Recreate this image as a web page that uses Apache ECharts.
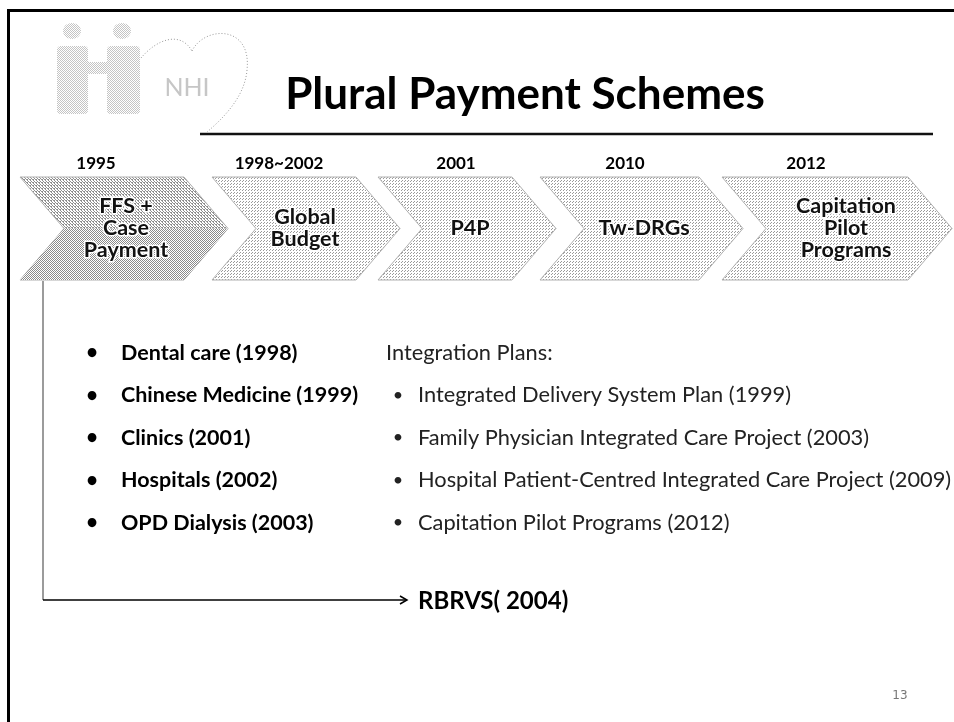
<!DOCTYPE html>
<html>
<head>
<meta charset="utf-8" />
<title>Plural Payment Schemes</title>
<style type="text/css">
html,body{margin:0;padding:0;background:#fff}
#main{width:954px;height:722px}
</style>
<script src="https://cdn.jsdelivr.net/npm/echarts@6/dist/echarts.min.js"></script>
</head>
<body>
<div id="main"></div>
<script type="text/javascript">
// slide text
var title = 'Plural Payment Schemes';
var years = ['1995', '1998~2002', '2001', '2010', '2012'];
var stages = ['FFS +\nCase\nPayment', 'Global\nBudget', 'P4P', 'Tw-DRGs', 'Capitation\nPilot\nPrograms'];
var globalBudgetItems = ['Dental care (1998)', 'Chinese Medicine (1999)', 'Clinics (2001)', 'Hospitals (2002)', 'OPD Dialysis (2003)'];
var integrationHeader = 'Integration Plans:';
var integrationItems = ['Integrated Delivery System Plan (1999)', 'Family Physician Integrated Care Project (2003)',
	'Hospital Patient-Centred Integrated Care Project (2009)', 'Capitation Pilot Programs (2012)'];
var arrowLabel = 'RBRVS( 2004)';
var pageNo = '13';

// layout (pixels)
var chevX = [[20, 228], [212, 400], [378, 556], [540, 743], [722, 952]];
var yearX = [96, 279, 456, 625, 806];
var stageX = [126, 305, 470, 644, 846];
var chevTop = 177, chevBot = 280, notch = 44;
var FONT = 'Lato, "Open Sans", sans-serif';

//dotted fill like the slide's texture
function dotPattern(size, dots, color){
	var c = document.createElement('canvas');
	c.width = size; c.height = size;
	var ctx = c.getContext('2d');
	ctx.fillStyle = '#fff';
	ctx.fillRect(0, 0, size, size);
	ctx.fillStyle = color;
	dots.forEach(function(d){ ctx.fillRect(d[0], d[1], 1, 1); });
	return {image: c, repeat: 'repeat'};
}
var densePat = dotPattern(2, [[0, 0], [1, 1]], '#8a8a8a');
var midPat = dotPattern(3, [[0, 0], [1, 1], [2, 2], [0, 2]], '#8f8f8f');
var lightPat = dotPattern(3, [[0, 0], [2, 1]], '#9a9a9a');
var logoPat = dotPattern(2, [[0, 0], [1, 1]], '#c4c4c4');

var g = [];

// slide border (top + left)
g.push({type: 'line', shape: {x1: 7, y1: 10.5, x2: 954, y2: 10.5}, style: {stroke: '#000', lineWidth: 3}});
g.push({type: 'line', shape: {x1: 8.5, y1: 9, x2: 8.5, y2: 722}, style: {stroke: '#000', lineWidth: 3}});

// NHI logo (faint)
g.push({type: 'ellipse', shape: {cx: 72, cy: 31, rx: 9, ry: 8}, style: {fill: logoPat}});
g.push({type: 'ellipse', shape: {cx: 122, cy: 31, rx: 9, ry: 8}, style: {fill: logoPat}});
g.push({type: 'rect', shape: {x: 57, y: 46, width: 31, height: 68, r: 4}, style: {fill: logoPat}});
g.push({type: 'rect', shape: {x: 107, y: 46, width: 33, height: 68, r: 4}, style: {fill: logoPat}});
g.push({type: 'rect', shape: {x: 88, y: 62, width: 19, height: 12}, style: {fill: logoPat}});
g.push({type: 'bezierCurve', shape: {x1: 141, y1: 58, cpx1: 156, cpy1: 40, cpx2: 180, cpy2: 30, x2: 192, y2: 51},
	style: {stroke: '#999', lineWidth: 1, lineDash: [1, 2], fill: null}});
g.push({type: 'bezierCurve', shape: {x1: 192, y1: 51, cpx1: 204, cpy1: 26, cpx2: 252, cpy2: 24, x2: 247, y2: 70},
	style: {stroke: '#999', lineWidth: 1, lineDash: [1, 2], fill: null}});
g.push({type: 'bezierCurve', shape: {x1: 247, y1: 70, cpx1: 245, cpy1: 95, cpx2: 226, cpy2: 116, x2: 207, y2: 132},
	style: {stroke: '#999', lineWidth: 1, lineDash: [1, 2], fill: null}});
g.push({type: 'text', style: {text: 'NHI', x: 187, y: 88, align: 'center', verticalAlign: 'middle',
	font: '25px ' + FONT, fill: '#c6c6c6'}});

// title + rule
g.push({type: 'text', style: {text: title, x: 525, y: 95, align: 'center', verticalAlign: 'middle',
	font: 'bold 44px ' + FONT, fill: '#000'}});
g.push({type: 'line', shape: {x1: 200, y1: 134, x2: 933, y2: 134}, style: {stroke: '#111', lineWidth: 2.5}});

// chevrons
chevX.forEach(function(cx, i){
	var x0 = cx[0], x1 = cx[1], mid = (chevTop + chevBot) / 2;
	var pts = [[x0, chevTop], [x1 - notch, chevTop], [x1, mid], [x1 - notch, chevBot], [x0, chevBot], [x0 + notch, mid]];
	g.push({type: 'polygon', shape: {points: pts},
		style: {fill: i === 0 ? midPat : lightPat, stroke: '#b0b0b0', lineWidth: 1}});
	if (i === 0) {
		// darker lower part of the first chevron
		g.push({type: 'polygon', shape: {points: [[x0 + notch, mid], [x1, mid], [x1 - notch, chevBot], [x0, chevBot]]},
			style: {fill: densePat}});
	}
	g.push({type: 'text', style: {text: years[i], x: yearX[i], y: 164, align: 'center', verticalAlign: 'middle',
		font: 'bold 17px ' + FONT, fill: '#000'}});
	g.push({type: 'text', style: {text: stages[i], x: stageX[i], y: mid, align: 'center', verticalAlign: 'middle',
		font: 'bold 21.5px ' + FONT, lineHeight: 22, fill: '#111', stroke: '#fff', lineWidth: 3}});
});

// left bullet list
globalBudgetItems.forEach(function(t, i){
	var y = 353 + i * 42.5;
	g.push({type: 'text', style: {text: '\u2022', x: 92, y: y, align: 'center', verticalAlign: 'middle',
		font: 'bold 20px ' + FONT, fill: '#000'}});
	g.push({type: 'text', style: {text: t, x: 121, y: y, align: 'left', verticalAlign: 'middle',
		font: 'bold 21.5px ' + FONT, fill: '#000'}});
});

// right list
g.push({type: 'text', style: {text: integrationHeader, x: 386, y: 353, align: 'left', verticalAlign: 'middle',
	font: '21.8px ' + FONT, fill: '#222'}});
integrationItems.forEach(function(t, i){
	var y = 395 + i * 42.5;
	g.push({type: 'text', style: {text: '\u2022', x: 398, y: y, align: 'center', verticalAlign: 'middle',
		font: '18px ' + FONT, fill: '#222'}});
	g.push({type: 'text', style: {text: t, x: 418, y: y, align: 'left', verticalAlign: 'middle',
		font: '21.8px ' + FONT, fill: '#222'}});
});

// connector from FFS chevron to RBRVS
g.push({type: 'polyline', shape: {points: [[43, 281], [43, 600]]}, style: {stroke: '#7a7a7a', lineWidth: 1.5}});
g.push({type: 'polyline', shape: {points: [[43, 600], [407, 600]]}, style: {stroke: '#000', lineWidth: 1.5}});
g.push({type: 'polyline', shape: {points: [[400, 596], [407, 600], [400, 604]]}, style: {stroke: '#000', lineWidth: 1.5, fill: null}});
g.push({type: 'text', style: {text: arrowLabel, x: 418, y: 601, align: 'left', verticalAlign: 'middle',
	font: 'bold 24px ' + FONT, fill: '#000'}});

// page number
g.push({type: 'text', style: {text: pageNo, x: 900, y: 696, align: 'center', verticalAlign: 'middle',
	font: '12px "DejaVu Sans", sans-serif', fill: '#777'}});

var chart = echarts.init(document.getElementById('main'), null, {renderer: 'canvas'});
chart.setOption({
	backgroundColor: '#fff',
	animation: false,
	graphic: {elements: g}
});
</script>
</body>
</html>
